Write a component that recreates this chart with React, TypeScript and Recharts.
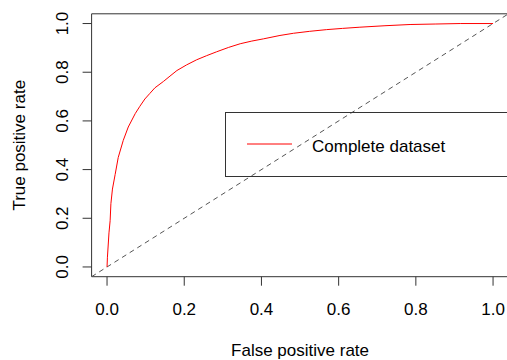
import React from 'react';
import { LineChart, Line, XAxis, YAxis, Legend, ReferenceArea } from 'recharts';

const fpr = [0, 0.001, 0.005, 0.008, 0.01, 0.014, 0.021, 0.029, 0.042, 0.055, 0.073, 0.085, 0.098, 0.111, 0.124, 0.146, 0.163, 0.181, 0.206, 0.232, 0.258, 0.284, 0.315, 0.345, 0.375, 0.405, 0.448, 0.483, 0.525, 0.569, 0.61, 0.655, 0.72, 0.785, 0.85, 0.915, 1];
const tpr = [0, 0.04, 0.14, 0.19, 0.26, 0.32, 0.38, 0.45, 0.52, 0.575, 0.63, 0.66, 0.69, 0.713, 0.736, 0.762, 0.784, 0.807, 0.83, 0.851, 0.868, 0.884, 0.902, 0.917, 0.928, 0.937, 0.951, 0.96, 0.968, 0.975, 0.98, 0.985, 0.991, 0.996, 0.998, 1, 1];
const diagX = [-0.04, 1.04];
const diagY = [-0.04, 1.04];
const tickValues = [0, 0.2, 0.4, 0.6, 0.8, 1.0];
const axisDomain = [-0.04, 1.04];
const seriesName = 'Complete dataset';
const xTitle = 'False positive rate';
const yTitle = 'True positive rate';

const rocData = fpr.map((x, i) => ({ x, y: tpr[i] }));
const diagData = diagX.map((x, i) => ({ x, y: diagY[i] }));

const FONT = '"Liberation Sans", Arial, sans-serif';
const FS = 17;

const XTick = (props: any) => {
  const { x, y, payload } = props;
  return (
    <text x={x} y={y + 29.3} textAnchor="middle" fontFamily={FONT} fontSize={FS} fill="#000">
      {Number(payload.value).toFixed(1)}
    </text>
  );
};

const YTick = (props: any) => {
  const { x, y, payload } = props;
  const bx = x - 14.6;
  return (
    <text x={bx} y={y} transform={`rotate(-90, ${bx}, ${y})`} textAnchor="middle" fontFamily={FONT} fontSize={FS} fill="#000">
      {Number(payload.value).toFixed(1)}
    </text>
  );
};

const XLabel = (props: any) => {
  const vb = props.viewBox || {};
  const cx = vb.x + vb.width / 2;
  return (
    <text x={cx} y={356} textAnchor="middle" fontFamily={FONT} fontSize={FS} fill="#000">
      {xTitle}
    </text>
  );
};

const YLabel = (props: any) => {
  const vb = props.viewBox || {};
  const cy = vb.y + vb.height / 2;
  return (
    <text x={25} y={cy} transform={`rotate(-90, 25, ${cy})`} textAnchor="middle" fontFamily={FONT} fontSize={FS} fill="#000">
      {yTitle}
    </text>
  );
};

const LegendContent = () => (
  <svg width={284} height={65} style={{ display: 'block', overflow: 'visible' }}>
    <rect x={0.5} y={0.5} width={283} height={64} fill="none" stroke="#333" strokeWidth={1} />
    <line x1={22} y1={32} x2={67} y2={32} stroke="#ff0000" strokeWidth={1} />
    <text x={87} y={39.5} fontFamily={FONT} fontSize={FS} fill="#000">{seriesName}</text>
  </svg>
);

export default function App() {
  return (
    <div style={{ position: 'absolute', left: 0, top: 0, width: 507, height: 360, overflow: 'hidden', background: '#fff' }}>
      <LineChart
        width={520}
        height={360}
        margin={{ top: 13.8, right: 11.5, bottom: 0, left: 0 }}
      >
        <XAxis
          dataKey="x"
          type="number"
          domain={axisDomain}
          ticks={tickValues}
          allowDataOverflow
          axisLine={false}
          tickLine={{ stroke: '#333' }}
          tickSize={9}
          tickMargin={0}
          tick={<XTick />}
          height={83.3}
          label={<XLabel />}
        />
        <YAxis
          dataKey="y"
          type="number"
          domain={axisDomain}
          ticks={tickValues}
          allowDataOverflow
          axisLine={false}
          tickLine={{ stroke: '#333' }}
          tickSize={9}
          tickMargin={0}
          tick={<YTick />}
          width={91.6}
          label={<YLabel />}
        />
        <ReferenceArea x1={axisDomain[0]} x2={axisDomain[1]} y1={axisDomain[0]} y2={axisDomain[1]} fill="none" stroke="#333" strokeWidth={1} fillOpacity={0} ifOverflow="visible" />
        <Line
          data={diagData}
          dataKey="y"
          type="linear"
          stroke="#555"
          strokeWidth={1}
          strokeDasharray="5 4"
          dot={false}
          isAnimationActive={false}
          legendType="none"
        />
        <Line
          data={rocData}
          dataKey="y"
          name={seriesName}
          type="linear"
          stroke="#ff0000"
          strokeWidth={1}
          dot={false}
          isAnimationActive={false}
        />
        <Legend
          layout="horizontal"
          verticalAlign="middle"
          align="center"
          content={<LegendContent />}
          wrapperStyle={{ position: 'absolute', left: 225, top: 112, width: 284, height: 65, bottom: 'auto', right: 'auto' }}
        />
      </LineChart>
    </div>
  );
}
